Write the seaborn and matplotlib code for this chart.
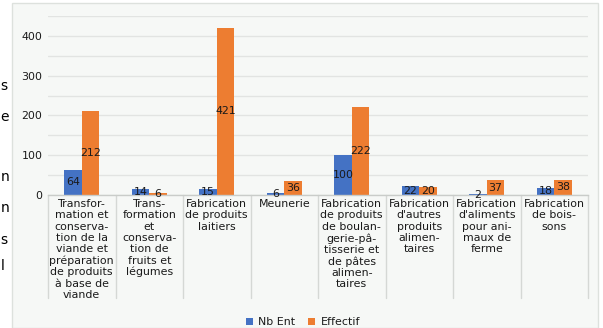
import numpy as np
import pandas as pd
import matplotlib
matplotlib.use("Agg")
import matplotlib.pyplot as plt
import matplotlib.transforms as mtransforms
from matplotlib.patches import Rectangle
import seaborn as sns

# --- data -------------------------------------------------------------
categories = [
    "Transfor-\nmation et\nconserva-\ntion de la\nviande et\npréparation\nde produits\nà base de\nviande",
    "Trans-\nformation\net\nconserva-\ntion de\nfruits et\nlégumes",
    "Fabrication\nde produits\nlaitiers",
    "Meunerie",
    "Fabrication\nde produits\nde boulan-\ngerie-pâ-\ntisserie et\nde pâtes\nalimen-\ntaires",
    "Fabrication\nd'autres\nproduits\nalimen-\ntaires",
    "Fabrication\nd'aliments\npour ani-\nmaux de\nferme",
    "Fabrication\nde bois-\nsons",
]
series_names = ["Nb Ent", "Effectif"]
nb_ent = [64, 14, 15, 6, 100, 22, 2, 18]
effectif = [212, 6, 421, 36, 222, 20, 37, 38]
y_ticks = [0, 50, 100, 150, 200, 250, 300, 350, 400, 450]
y_tick_labels = ["0", "", "100", "", "200", "", "300", "", "400", ""]
margin_letters = ["s", "e", "n", "n", "s", "l"]

df = pd.DataFrame({
    "categorie": categories * 2,
    "serie": [series_names[0]] * len(categories) + [series_names[1]] * len(categories),
    "valeur": nb_ent + effectif,
})

# --- style ------------------------------------------------------------
sns.set_style("white")
plt.rcParams["font.family"] = ["DejaVu Sans"]
text_color = "#1a1a1a"
blue, orange = "#4472C4", "#ED7D31"
panel_color = "#f6f8f6"
grid_color = "#e2e4e2"
fs = 7.9

W, H = 603, 328
fig = plt.figure(figsize=(W / 100, H / 100), dpi=100)
fig.patch.set_facecolor("white")

# panel behind the chart
fig.patches.append(Rectangle((11.5 / W, 0), (598 - 11.5) / W, (H - 3) / H,
                             transform=fig.transFigure, facecolor=panel_color,
                             edgecolor="#dde1dd", linewidth=1.0, zorder=-5))

# letters of the neighbouring text in the left margin
for ch, yy in zip(margin_letters, [86, 117, 177, 208, 240, 266]):
    fig.text(0.5 / W, 1 - yy / H, ch, fontsize=10, color="black",
             ha="left", va="center")

ax = fig.add_axes([48 / W, (H - 195) / H, 540 / W, (195 - 16) / H])
ax.set_facecolor("none")

sns.barplot(data=df, x="categorie", y="valeur", hue="serie", order=categories,
            hue_order=series_names, palette=[blue, orange], width=0.52,
            saturation=1, errorbar=None, linewidth=0, ax=ax)

for cont in ax.containers:
    ax.bar_label(cont, fmt="%g", label_type="center", fontsize=fs, color=text_color)

ax.set_ylim(0, 450)
ax.set_xlim(-0.5, len(categories) - 0.5)
ax.set_yticks(y_ticks)
ax.set_yticklabels(y_tick_labels, fontsize=fs, color=text_color)
ax.yaxis.grid(True, color=grid_color, linewidth=1.0)
ax.set_axisbelow(True)
ax.tick_params(axis="both", length=0)
ax.tick_params(axis="y", pad=4)
ax.set_xticks(range(len(categories)))
ax.set_xticklabels(categories, fontsize=fs, color=text_color, linespacing=1.16,
                   va="top", ha="center")
ax.tick_params(axis="x", pad=3)
ax.set_xlabel("")
ax.set_ylabel("")
for side in ["top", "right", "left"]:
    ax.spines[side].set_visible(False)
ax.spines["bottom"].set_color("#c9ccc9")
ax.spines["bottom"].set_linewidth(1.0)

# category table borders
trans = mtransforms.blended_transform_factory(ax.transData, ax.transAxes)
for b in np.arange(-0.5, len(categories), 1.0):
    ax.plot([b, b], [0, -103 / 179], transform=trans, color="#d5d8d5",
            linewidth=1.0, clip_on=False, zorder=1)

handles, labels = ax.get_legend_handles_labels()
ax.get_legend().remove()
fig.legend(handles, labels, loc="center", bbox_to_anchor=(303 / W, 6 / H),
           ncol=2, frameon=False, fontsize=fs, handlelength=0.6,
           handleheight=0.6, handletextpad=0.5, columnspacing=1.2,
           labelcolor=text_color)

fig.savefig("out.png", dpi=100, facecolor="white")
